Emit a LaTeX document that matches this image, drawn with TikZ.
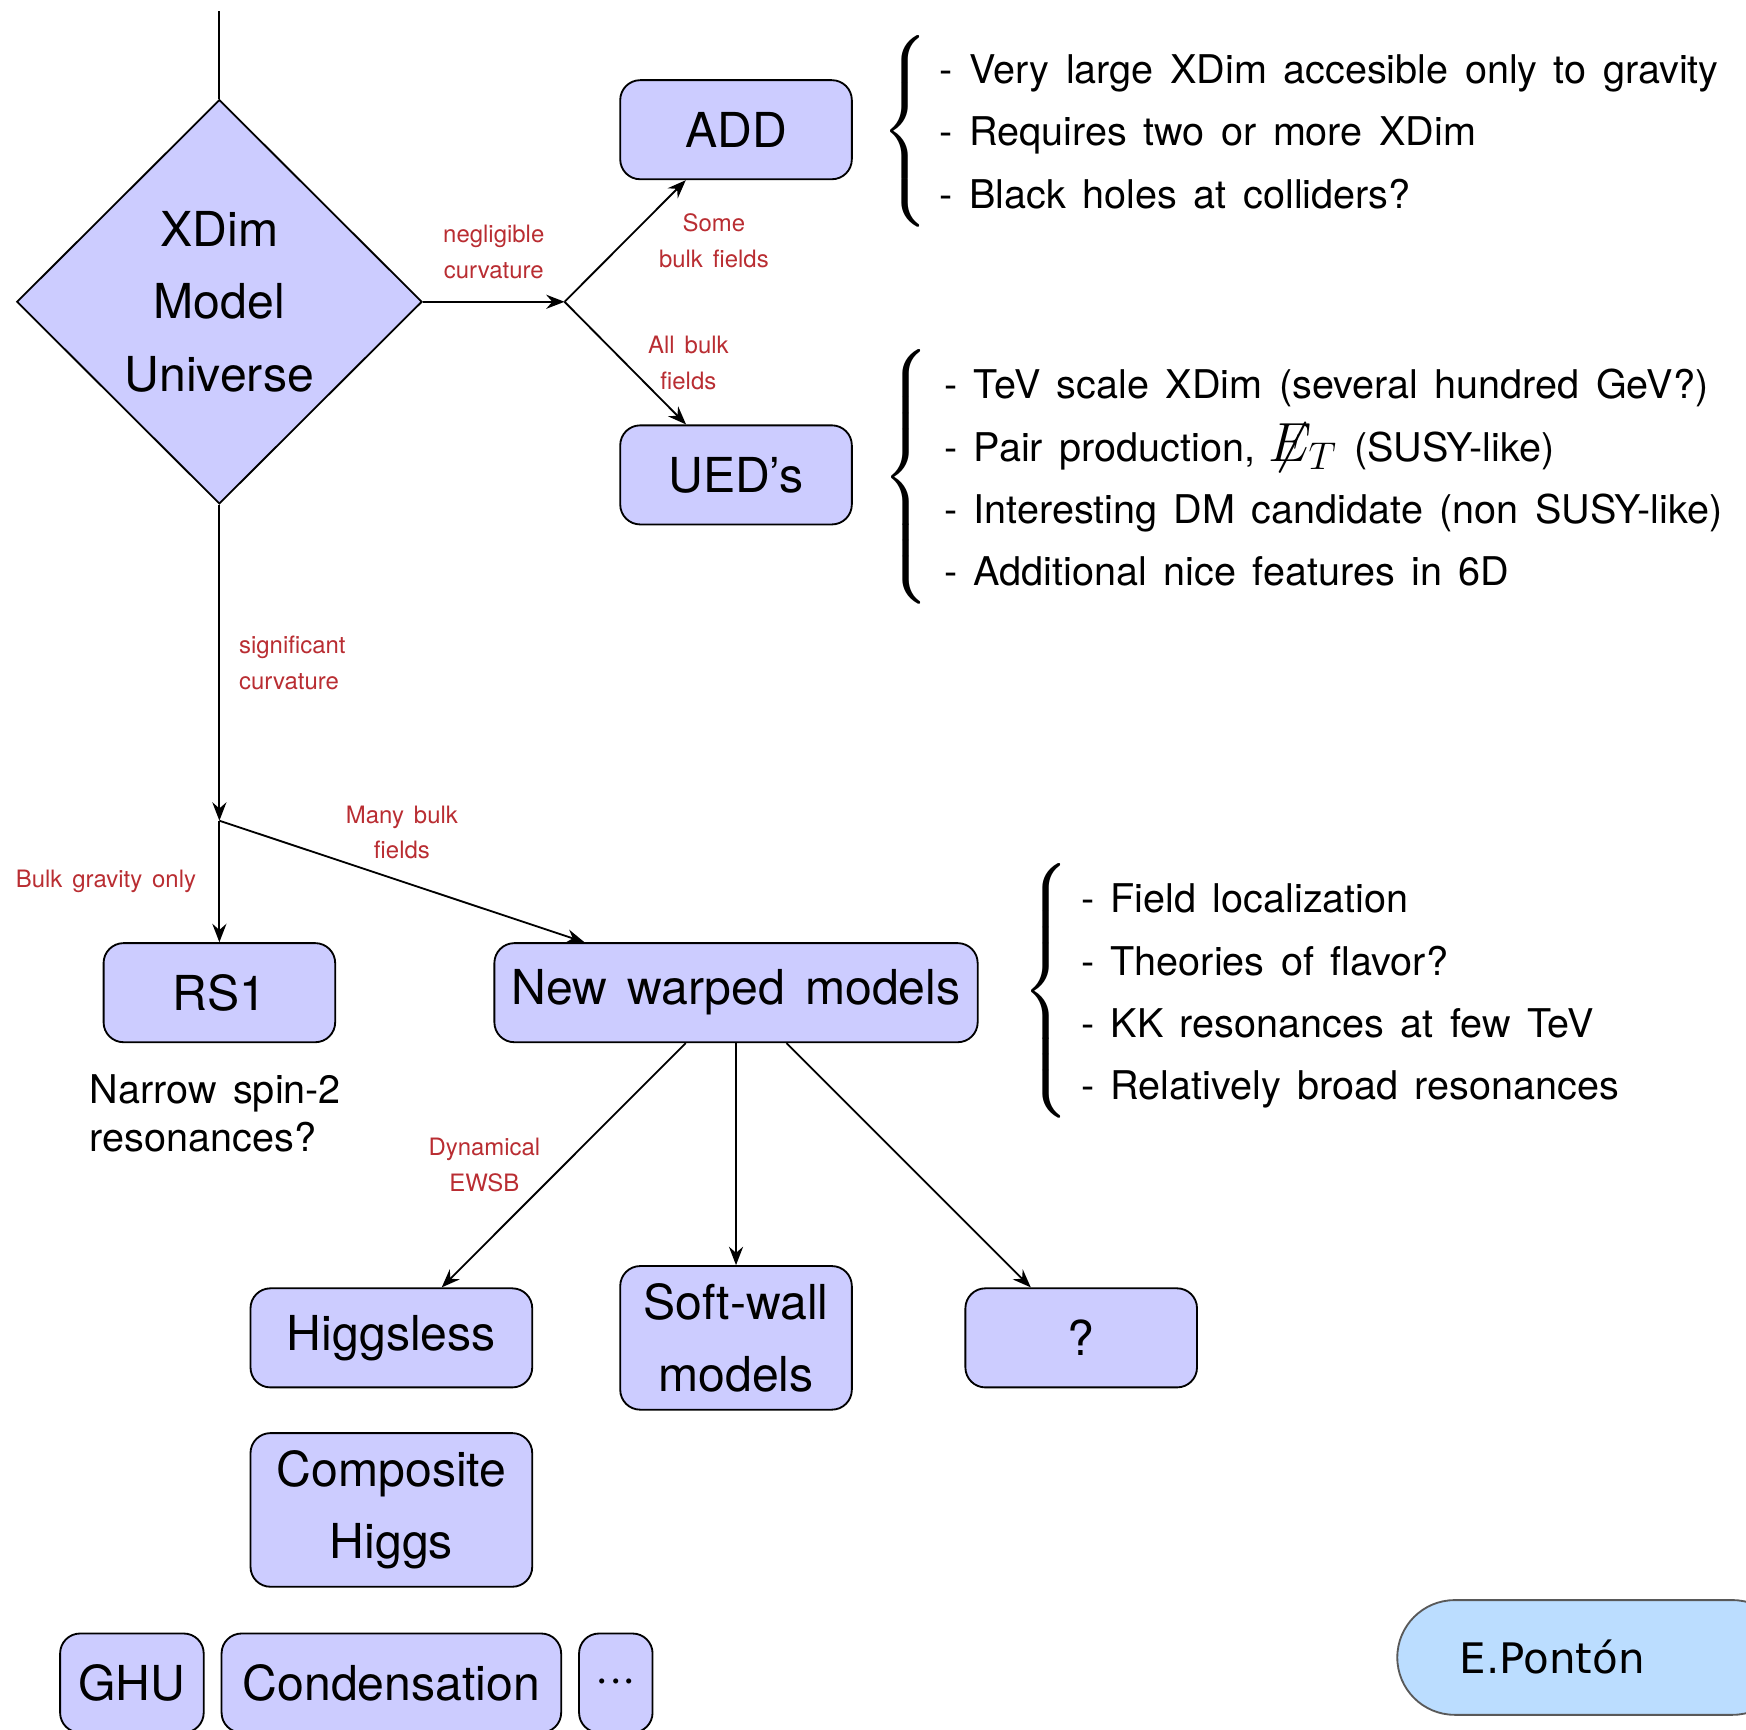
\RequirePackage{fix-cm}
\documentclass[tikz,border=0pt]{standalone}
\usepackage{exscale}
\usepackage{fontspec}
\setmainfont{TeX Gyre Heros}[WordSpace=1.5]
\newfontfamily\signfont{DejaVu Sans}
\usetikzlibrary{shapes.geometric,arrows.meta}

\definecolor{boxblue}{RGB}{204,204,255}
\definecolor{signblue}{RGB}{187,221,255}
\definecolor{labred}{RGB}{185,45,50}

\newcommand{\boxfont}{\fontsize{15.7}{23.6}\selectfont}
\newcommand{\listfont}{\fontsize{12.9}{20.3}\selectfont}
\newcommand{\labfont}{\fontsize{7.8}{11.6}\selectfont}
% a curly brace of the given total height
\newcommand{\tallbrace}[1]{$\delimiterfactor=1000\delimitershortfall=0pt\nulldelimiterspace=0pt
	\left\{\vcenter{\hrule height #1 width 0pt}\right.$}

\tikzset{
	model/.style={draw, semithick, fill=boxblue, rounded corners=6.5pt, align=center, font=\boxfont,
		inner sep=2pt, minimum height=1.135cm, minimum width=2.653cm},
	lab/.style={text=labred, font=\labfont, align=center},
	notes/.style={font=\listfont, align=left, anchor=west, inner xsep=0.15cm, inner ysep=0.17cm},
	curly/.style={anchor=east, inner sep=0pt, font=\fontsize{16}{19}\selectfont},
}

\begin{document}
\begin{tikzpicture}[>={Stealth[length=6pt,width=4.6pt,inset=2pt]}, semithick]
	\useasboundingbox (0,0) rectangle (20,-19.809);
	\clip (0,0) rectangle (20,-19.809);
	% the starting question
	\coordinate (top) at (2.513,-0.128);
	\node [diamond, draw, fill=boxblue, aspect=1, inner sep=0pt, minimum width=4.643cm, minimum height=4.63cm,
		align=center, font=\boxfont] (univ) at (2.513,-3.457) {XDim\\Model\\Universe};
	\coordinate (flat) at (6.467,-3.457);
	\coordinate (warp) at (2.513,-9.401);
	% flat extra dimensions
	\node [model] (add) at (8.431,-1.486) {ADD};
	\node [model] (ued) at (8.431,-5.440) {UED's};
	\node [curly] (addbrace) at (10.65,-1.505) {\tallbrace{1.85cm}};
	\node [notes] (addnotes) at (10.603,-1.51) {- Very large XDim accesible only to gravity\\- Requires two or more XDim\\- Black holes at colliders?};
	\node [curly] (uedbrace) at (10.663,-5.466) {\tallbrace{2.72cm}};
	\node [notes] (uednotes) at (10.654,-5.472) {- TeV scale XDim (several hundred GeV?)\\- Pair production, {\fontsize{18}{20}\selectfont$\not\!\!E_T$} (SUSY-like)\\- Interesting DM candidate (non SUSY-like)\\- Additional nice features in 6D};
	% warped extra dimensions
	\node [model] (rs1) at (2.513,-11.371) {RS1};
	\node [model, minimum width=5.536cm] (nwm) at (8.431,-11.371) {New warped models};
	\node [font=\fontsize{12.9}{15.6}\selectfont, align=left, anchor=west, inner sep=0pt] (rs1note) at (1.020,-12.749) {Narrow spin-2\\resonances?};
	\node [curly] (nwmbrace) at (12.26,-11.352) {\tallbrace{2.73cm}};
	\node [notes] (nwmnotes) at (12.222,-11.41) {- Field localization\\- Theories of flavor?\\- KK resonances at few TeV\\- Relatively broad resonances};
	\node [model, minimum width=3.227cm] (hless) at (4.483,-15.325) {Higgsless};
	\node [model, minimum height=1.645cm] (soft) at (8.431,-15.325) {Soft-wall\\models};
	\node [model] (unknown) at (12.385,-15.325) {?};
	\node [model, minimum width=3.227cm, minimum height=1.760cm] (comp) at (4.483,-17.296) {Composite\\Higgs};
	\node [model, minimum width=1.645cm] (ghu) at (1.511,-19.279) {GHU};
	\node [model, minimum width=3.890cm] (cond) at (4.483,-19.279) {Condensation};
	\node [model, minimum width=0.842cm] (etc) at (7.054,-19.279) {${\cdot}{\cdot}{\cdot}$};
	\node [draw=black!65, fill=signblue, rounded corners=0.657cm, minimum height=1.314cm, text width=3.07cm,
		inner xsep=0.714cm, align=left, anchor=west, font=\fontsize{13.7}{16}\signfont] (sign) at (15.995,-18.986) {E.Pontón};
	% connectors
	\draw (top) -- (univ);
	\draw [->] (univ) -- (flat) node [lab, midway, above=4pt] {negligible\\curvature};
	\draw [->] (flat) -- (add) node [lab, midway, right=7.4pt] {Some\\bulk fields};
	\draw [->] (flat) -- (ued) node [lab, midway, right=3.8pt] {All bulk\\fields};
	\draw [->] (univ) -- (warp) node [lab, midway, right=2.8pt, align=left] {significant\\curvature};
	\draw [->] (warp) -- (rs1) node [lab, midway, left=4pt] {Bulk gravity only};
	\draw [->] (warp) -- (nwm) node [lab, midway, above=3.6pt] {Many bulk\\fields};
	\draw [->] (nwm) -- (hless) node [lab, midway, left=4pt] {Dynamical\\EWSB};
	\draw [->] (nwm) -- (soft);
	\draw [->] (nwm) -- (unknown);
\end{tikzpicture}
\end{document}
